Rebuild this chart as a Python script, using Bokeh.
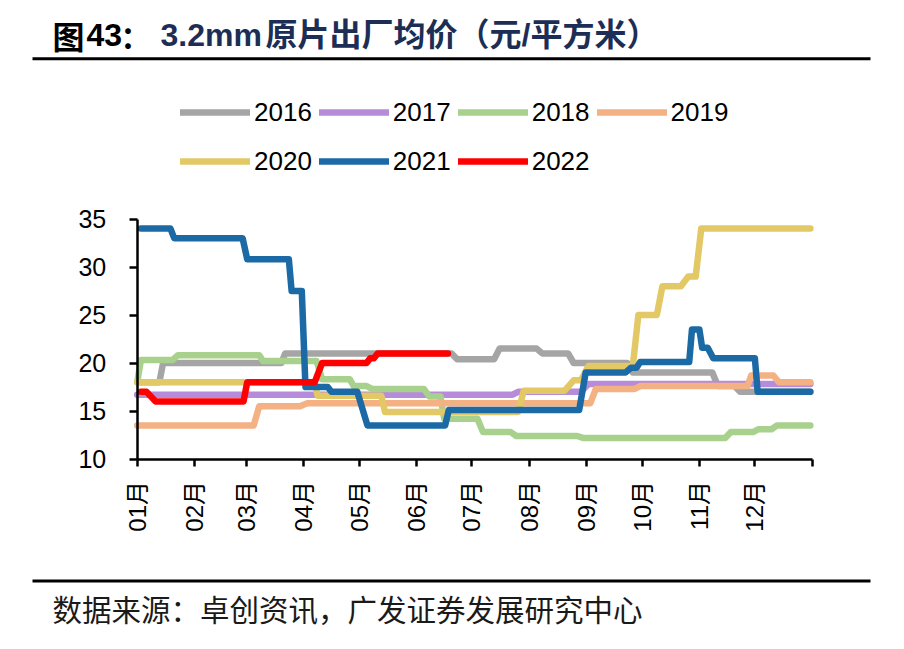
import math
from bokeh.plotting import figure
from bokeh.models import Range1d, FixedTicker, Legend, LegendItem, LinearAxis
from bokeh.core.properties import value
from bokeh.embed import file_html
from bokeh.resources import INLINE

# ---------------- data (day of year -> price, 元/平方米) ----------------
month_ticks = [0, 31, 59, 90, 120, 151, 181, 212, 243, 273, 304, 334, 365]
month_labels = ["01月", "02月", "03月", "04月", "05月", "06月",
                "07月", "08月", "09月", "10月", "11月", "12月", ""]
y_ticks = [10, 15, 20, 25, 30, 35]

d2016 = [2, 12, 14, 78, 80, 170, 173, 193, 196, 216, 219, 233, 236, 265, 268, 311, 314, 323, 326, 364]
v2016 = [18.0, 18.0, 20.0, 20.0, 21.0, 21.0, 20.4, 20.4, 21.5, 21.5, 21.0, 21.0, 20.0, 20.0, 19.0, 19.0, 17.6, 17.6, 17.0, 17.0]

d2017 = [0, 203, 206, 240, 244, 364]
v2017 = [16.7, 16.7, 17.0, 17.0, 17.8, 17.8]

d2018 = [0, 2, 19, 22, 66, 68, 97, 100, 115, 117, 124, 127, 155, 158, 164, 166,
         184, 187, 202, 205, 238, 241, 318, 321, 333, 336, 343, 346, 364]
v2018 = [18.0, 20.3, 20.3, 20.8, 20.8, 20.2, 20.2, 18.3, 18.3, 17.6, 17.6, 17.3, 17.3, 16.5, 16.5, 14.2,
         14.2, 12.8, 12.8, 12.4, 12.4, 12.2, 12.2, 12.8, 12.8, 13.1, 13.1, 13.5, 13.5]

d2019 = [0, 63, 66, 88, 92, 245, 248, 269, 272, 330, 332, 344, 347, 364]
v2019 = [13.5, 13.5, 15.5, 15.5, 15.8, 15.8, 17.3, 17.3, 17.6, 17.6, 18.7, 18.7, 18.0, 18.0]

d2020 = [0, 96, 97.5, 132, 134, 206, 209, 231, 236, 240, 244, 268, 271, 281, 284, 294, 298, 302, 305, 364]
v2020 = [18.0, 18.0, 16.6, 16.6, 14.9, 14.9, 17.1, 17.1, 18.2, 18.2, 19.7, 19.7, 25.0, 25.0, 28.0, 28.0, 29.0, 29.0, 34.0, 34.0]

d2021 = [2, 18, 20, 57, 59.5, 82, 83.5, 89, 91, 103, 105, 119, 124.5, 166.5, 168.5, 239, 242.5, 264, 267, 270, 272,
         298.5, 300, 304, 305.5, 308.5, 311.5, 334, 335.5, 364]
v2021 = [34.0, 34.0, 33.0, 33.0, 30.8, 30.8, 27.5, 27.5, 17.5, 17.5, 17.0, 17.0, 13.5, 13.5, 15.1, 15.1, 19.0, 19.0, 19.5, 19.5, 20.1,
         20.1, 23.5, 23.5, 21.6, 21.6, 20.5, 20.5, 17.0, 17.0]

d2022 = [2, 5, 10, 57.5, 59.5, 96, 100, 124, 126, 128, 130, 168]
v2022 = [17.0, 17.0, 16.0, 16.0, 18.0, 18.0, 20.0, 20.0, 20.5, 20.5, 21.0, 21.0]

series = [
    ("2016", d2016, v2016, "#A5A5A5"),
    ("2017", d2017, v2017, "#B68BD9"),
    ("2018", d2018, v2018, "#A9D18E"),
    ("2019", d2019, v2019, "#F4B183"),
    ("2020", d2020, v2020, "#E3C866"),
    ("2021", d2021, v2021, "#1C6AA5"),
    ("2022", d2022, v2022, "#FF0000"),
]

LATIN = "Liberation Sans, Noto Sans CJK SC"
CJK = "Noto Sans CJK SC"

# ---------------- layout geometry (pixels) ----------------
W, H = 904, 649
PLOT_L, PLOT_R = 136.7, 811.7      # x pixel of day 0 / day 365
PLOT_T, PLOT_B = 218.5, 458.5      # y pixel of 35 / 10
X0, X1 = 0, 365
Y0, Y1 = 10, 35
kx = (PLOT_R - PLOT_L) / (X1 - X0)
ky = (PLOT_B - PLOT_T) / (Y1 - Y0)
x_range = Range1d(X0 - PLOT_L / kx, X1 + (W - PLOT_R) / kx)
y_range = Range1d(Y0 - (H - PLOT_B) / ky, Y1 + PLOT_T / ky)

p = figure(width=W, height=H, x_range=x_range, y_range=y_range,
           x_axis_type=None, y_axis_type=None, min_border=0,
           toolbar_location=None, output_backend="svg", outline_line_color=None, title=None)
p.extra_x_ranges = {"px": Range1d(0, W)}
p.extra_y_ranges = {"px": Range1d(H, 0)}

renderers = {}
for name, d, v, c in series:
    renderers[name] = p.line(d, v, line_color=c, line_width=6.5, line_cap="round", line_join="round")

# x axis (fixed at y = 10)
xa = LinearAxis(fixed_location=Y0, bounds=(X0, X1), ticker=FixedTicker(ticks=month_ticks))
xa.major_label_overrides = {t: l for t, l in zip(month_ticks, month_labels)}
xa.major_label_orientation = math.pi / 2
xa.major_label_text_font = LATIN
xa.major_label_text_font_size = "24px"
xa.major_label_text_color = "black"
xa.major_label_standoff = 15
xa.axis_line_width = 2.5
xa.axis_line_color = "black"
xa.major_tick_line_width = 2.5
xa.major_tick_line_color = "black"
xa.major_tick_out = 7
xa.major_tick_in = 0
xa.minor_tick_out = 0
xa.minor_tick_in = 0
p.add_layout(xa, "below")

# y axis (fixed at day 0)
ya = LinearAxis(fixed_location=X0, bounds=(Y0, Y1), ticker=FixedTicker(ticks=y_ticks))
ya.major_label_text_font = LATIN
ya.major_label_text_font_size = "25px"
ya.major_label_text_color = "black"
ya.major_label_standoff = 23
ya.axis_line_width = 2.5
ya.axis_line_color = "black"
ya.major_tick_line_width = 2.5
ya.major_tick_line_color = "black"
ya.major_tick_out = 8
ya.major_tick_in = 0
ya.minor_tick_out = 0
ya.minor_tick_in = 0
p.add_layout(ya, "left")

# legends (two rows)
ITEM_H = 26
def make_legend(names, row_center_y):
    return Legend(items=[LegendItem(label=n, renderers=[renderers[n]]) for n in names],
                  location=(180, H - (row_center_y - ITEM_H / 2) - ITEM_H), orientation="horizontal",
                  glyph_width=70, glyph_height=ITEM_H, label_height=ITEM_H, label_standoff=4,
                  spacing=7, padding=0, margin=0,
                  border_line_color=None, background_fill_alpha=0,
                  label_text_font=LATIN, label_text_font_size="26px", label_text_color="black")

p.add_layout(make_legend(["2016", "2017", "2018", "2019"], 114.5))
p.add_layout(make_legend(["2020", "2021", "2022"], 163.5))

# title, rules and source (pixel coordinates via extra ranges)
title_parts = [
    (52, "图", CJK, "32px", "black"),
    (86, "43", LATIN, "32px", "black"),
    (120, "：", CJK, "30px", "black"),
    (160, "3.2mm", LATIN, "32px", "#1C2E55"),
    (265, "原片出厂均价（元/平方米）", LATIN, "32px", "#1C2E55"),
]
for tx, tt, tf, ts, tc in title_parts:
    p.text(x=[tx], y=[34], text=[tt], text_font=value(tf), text_font_size=ts,
           text_font_style="bold", text_color=tc, text_baseline="middle", text_align="left",
           x_range_name="px", y_range_name="px")

p.segment(x0=[32, 32], y0=[58.3, 580.5], x1=[870, 870], y1=[58.3, 580.5],
          line_width=3, line_color="black", x_range_name="px", y_range_name="px")
p.text(x=[52], y=[607], text=["数据来源：卓创资讯，广发证券发展研究中心"], text_font=value(CJK),
       text_font_size="29.5px", text_color="#1a1a1a", text_baseline="middle", text_align="left",
       x_range_name="px", y_range_name="px")

open("out.html", "w").write(file_html(p, INLINE))
